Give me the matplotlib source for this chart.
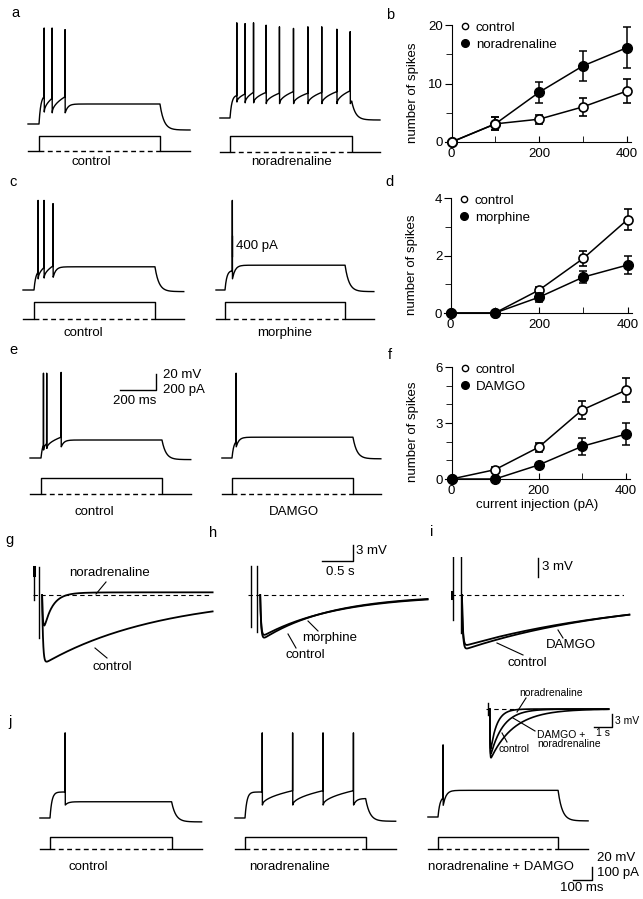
import numpy as np
import matplotlib
matplotlib.use('agg')
import matplotlib.pyplot as plt
from matplotlib.lines import Line2D

plt.rcParams['font.family'] = ['Liberation Sans', 'DejaVu Sans']
plt.rcParams['font.size'] = 9.5

W, H = 643, 899

# ---- spike counts vs current injection (b, d, f) ----
current_pa = [0, 100, 200, 300, 400]

b_control = [0, 3.1, 3.9, 6.0, 8.7]
b_control_err = [0, 1.1, 0.8, 1.6, 2.1]
b_nor = [0, 3.1, 8.5, 13.0, 16.1]
b_nor_err = [0, 1.1, 1.8, 2.6, 3.5]

d_control = [0, 0, 0.8, 1.9, 3.25]
d_control_err = [0, 0, 0.1, 0.25, 0.38]
d_morphine = [0, 0, 0.55, 1.25, 1.67]
d_morphine_err = [0, 0, 0.15, 0.2, 0.3]

f_control = [0, 0.5, 1.7, 3.7, 4.75]
f_control_err = [0, 0.15, 0.25, 0.5, 0.65]
f_damgo = [0, 0, 0.75, 1.75, 2.4]
f_damgo_err = [0, 0, 0.12, 0.45, 0.6]

# ---- voltage responses to a current step (ms after onset, mV above rest) ----
a_ctrl_spikes = [28, 72, 144]
a_ctrl_peak = [120, 120, 118]
a_ctrl_pre = [34, 32, 34]
a_ctrl_trough = [15, 14, 14]
a_nor_spikes = [37, 83, 130, 200, 274, 352, 432, 509, 593, 667]
a_nor_peak = [119, 118, 119, 116, 114, 112, 114, 114, 111, 108]
a_nor_pre = [28, 30, 32, 32, 31, 33, 31, 32, 33, 34]
a_nor_trough = [20, 19, 19, 18, 18, 18, 18, 18, 18, 18]

c_ctrl_spikes = [22, 55, 105]
c_ctrl_peak = [112, 112, 108]
c_ctrl_pre = [22, 28, 30]
c_ctrl_trough = [14, 15, 16]
c_mor_spikes = [40]
c_mor_peak = [112]
c_mor_pre = [24]
c_mor_trough = [14]

e_ctrl_spikes = [13, 31, 111]
e_ctrl_peak = [106, 106, 107]
e_ctrl_pre = [16, 18, 26]
e_ctrl_trough = [10, 12, 14]
e_dam_spikes = [22]
e_dam_peak = [106]
e_dam_pre = [20]
e_dam_trough = [14]

j_ctrl_spikes = [79]
j_ctrl_peak = [131]
j_ctrl_pre = [40]
j_ctrl_trough = [20]
j_nor_spikes = [90, 250, 410, 570]
j_nor_peak = [131, 131, 131, 131]
j_nor_pre = [40, 42, 42, 42]
j_nor_trough = [20, 20, 20, 20]
j_nd_spikes = [26]
j_nd_peak = [111]
j_nd_pre = [29]
j_nd_trough = [18]

# plateau and after-step level (mV) for each trace
plateau = {'a_ctrl': 25, 'a_nor': 26, 'c_ctrl': 29, 'c_mor': 31, 'e_ctrl': 22.5,
           'e_dam': 26, 'j_ctrl': 25, 'j_nor': 30, 'j_nd': 41}
after_step = {'a_ctrl': -7.5, 'a_nor': -2.5, 'c_ctrl': -2, 'c_mor': -2, 'e_ctrl': -2,
              'e_dam': -1, 'j_ctrl': -6, 'j_nor': -5, 'j_nd': -6}

# ---- slow afterhyperpolarisations (s, mV from baseline) ----
g_ahp_depth = [13.1, 8.4]          # control, noradrenaline
g_ahp_tau = [1.9, 0.13]
g_ahp_offset = [0.0, 0.5]
h_ahp_depth = [8.6, 8.0]           # control, morphine
h_ahp_tau = [1.1, 1.2]
i_ahp_depth = [8.8, 8.2]           # control, DAMGO
i_ahp_tau = [2.6, 2.8]
inset_depth = [12.0, 11.0, 11.5]   # control, noradrenaline, DAMGO + noradrenaline
inset_tau = [1.3, 0.35, 0.7]

fig = plt.figure(figsize=(W / 100, H / 100), dpi=100)


def px_axes(left, top, right, bottom):
    return fig.add_axes([left / W, 1 - bottom / H, (right - left) / W, (bottom - top) / H])


def trace_axes(x0, y0, sx, sy, xlim, ylim):
    # x0, y0: pixel of data (0, 0); sx, sy: pixels per data unit
    ax = px_axes(x0 + xlim[0] * sx, y0 - ylim[1] * sy, x0 + xlim[1] * sx, y0 - ylim[0] * sy)
    ax.set_xlim(xlim)
    ax.set_ylim(ylim)
    ax.axis('off')
    return ax


def ftext(x, y, s, **kw):
    kw.setdefault('ha', 'center')
    kw.setdefault('va', 'center')
    fig.text(x / W, 1 - y / H, s, **kw)


def pointer(x1, y1, x2, y2):
    fig.add_artist(Line2D([x1 / W, x2 / W], [1 - y1 / H, 1 - y2 / H], color='black', lw=0.8))


def spiking(spikes, peak, pre, trough, plat, after, step_ms, pre_ms, post_ms):
    t = [-pre_ms, 0]
    v = [0, 0]
    tt = np.linspace(0, spikes[0], 30)
    t += list(tt)
    v += list(pre[0] * (1 - np.exp(-tt / 10)) / (1 - np.exp(-spikes[0] / 10)))
    for i, s in enumerate(spikes):
        t += [s + 0.7, s + 1.5]
        v += [peak[i], trough[i]]
        if i + 1 < len(spikes):
            tt = np.linspace(s + 1.5, spikes[i + 1], 40)
            frac = (tt - tt[0]) / (tt[-1] - tt[0])
            t += list(tt)
            v += list(trough[i] + (pre[i + 1] - trough[i]) * frac ** 0.5)
    tt = np.linspace(spikes[-1] + 1.5, step_ms, 80)
    vv = plat + (trough[-1] - plat) * np.exp(-(tt - tt[0]) / 15)
    t += list(tt)
    v += list(vv)
    tt = np.linspace(step_ms, step_ms + post_ms, 80)
    t += list(tt)
    v += list(after + (vv[-1] - after) * np.exp(-(tt - step_ms) / 22))
    return np.array(t), np.array(v)


def cell(x0, y0, cur_y0, sx, sy, key, spikes, peak, pre, trough, step_ms,
         pre_ms=60, post_ms=165, cur_px=15):
    ax = trace_axes(x0, y0, sx, sy, (-pre_ms - 5, step_ms + post_ms + 5), (-15, 135))
    t, v = spiking(spikes, peak, pre, trough, plateau[key], after_step[key],
                   step_ms, pre_ms, post_ms)
    ax.plot(t, v, color='black', lw=1.0, clip_on=False)
    # current command below the voltage trace
    cax = trace_axes(x0, cur_y0, sx, 1.0, (-pre_ms - 5, step_ms + post_ms + 5), (-5, 25))
    cax.plot([-pre_ms, 0, 0, step_ms, step_ms, step_ms + post_ms],
             [0, 0, cur_px, cur_px, 0, 0], color='black', lw=1.0, clip_on=False)
    cax.plot([0, step_ms], [0, 0], color='black', lw=1.0, ls=(0, (3.5, 2.5)), clip_on=False)
    return ax


SX, SY = 0.18, 0.8

# a
cell(39, 124, 151, SX, SY, 'a_ctrl', a_ctrl_spikes, a_ctrl_peak, a_ctrl_pre, a_ctrl_trough, 672,
     pre_ms=61, post_ms=167, cur_px=15)
cell(230, 118, 152, SX, SY, 'a_nor', a_nor_spikes, a_nor_peak, a_nor_pre, a_nor_trough, 676,
     pre_ms=56, post_ms=157, cur_px=16)
ftext(91, 162, 'control')
ftext(292, 162, 'noradrenaline')

# c
cell(34, 290, 319, SX, SY, 'c_ctrl', c_ctrl_spikes, c_ctrl_peak, c_ctrl_pre, c_ctrl_trough, 672,
     pre_ms=61, post_ms=160, cur_px=17)
cell(225, 290, 319, SX, SY, 'c_mor', c_mor_spikes, c_mor_peak, c_mor_pre, c_mor_trough, 667,
     pre_ms=50, post_ms=160, cur_px=17)
ftext(83, 333, 'control')
ftext(285, 333, 'morphine')
ax_scale = trace_axes(232, 256, 1, 0.05, (0, 1), (0, 400))
ax_scale.plot([0, 0], [0, 400], color='black', lw=1.0, clip_on=False)
ftext(236, 246, '400 pA', ha='left')

# e
ax_e = cell(41, 458, 494, SX, SY, 'e_ctrl', e_ctrl_spikes, e_ctrl_peak, e_ctrl_pre, e_ctrl_trough, 672,
            pre_ms=61, post_ms=160, cur_px=16)
cell(232, 458, 494, SX, SY, 'e_dam', e_dam_spikes, e_dam_peak, e_dam_pre, e_dam_trough, 672,
     pre_ms=56, post_ms=155, cur_px=16)
ax_e.plot([439, 639, 639], [85, 85, 105], color='black', lw=1.0, clip_on=False)
ftext(163, 375, '20 mV', ha='left')
ftext(163, 390, '200 pA', ha='left')
ftext(135, 401, '200 ms')
ftext(94, 512, 'control')
ftext(294, 512, 'DAMGO')

# j
JX, JY = 0.19, 0.65
cell(50, 818, 849, JX, JY, 'j_ctrl', j_ctrl_spikes, j_ctrl_peak, j_ctrl_pre, j_ctrl_trough, 640,
     pre_ms=53, post_ms=158, cur_px=12)
cell(245, 818, 849, JX, JY, 'j_nor', j_nor_spikes, j_nor_peak, j_nor_pre, j_nor_trough, 635,
     pre_ms=53, post_ms=158, cur_px=12)
ax_j = cell(438, 817, 849, JX, JY, 'j_nd', j_nd_spikes, j_nd_peak, j_nd_pre, j_nd_trough, 632,
            pre_ms=53, post_ms=158, cur_px=12)
ax_j.plot([713, 813, 813], [-97, -97, -77], color='black', lw=1.0, clip_on=False)
ftext(597, 858, '20 mV', ha='left')
ftext(597, 873, '100 pA', ha='left')
ftext(582, 888, '100 ms')
ftext(88, 867, 'control')
ftext(290, 867, 'noradrenaline')
ftext(501, 867, 'noradrenaline + DAMGO')


# ---- afterhyperpolarisations ----
def ahp(depth, tau, offset=0.0, t_end=2.8):
    t = np.linspace(0.0, t_end, 400)
    onset = 1 - np.exp(-t / 0.015)
    v = -depth * np.exp(-t / tau) * onset + offset * (1 - np.exp(-t / 0.3))
    v[0] = 0
    return t, v


def ahp_axes(x0, y0, sy, t_end):
    ax = trace_axes(x0, y0, 62, sy, (-0.1, t_end), (-14, 6))
    ax.axhline(0, xmin=0.0, xmax=1.0, color='black', lw=0.8, ls=(0, (4, 3)))
    return ax


ax_g = ahp_axes(39, 595, 5.33, 2.75)
for dep, tau, off in zip(g_ahp_depth, g_ahp_tau, g_ahp_offset):
    t, v = ahp(dep, tau, off, 2.75)
    ax_g.plot(t + 0.05, v, color='black', lw=1.3, clip_on=False)
ax_g.plot([-0.08, -0.08], [5.3, -1], color='black', lw=1.0)
ax_g.plot([-0.08, -0.08], [5.3, 3.8], color='black', lw=2.2)
ax_g.plot([0, 0], [5.3, -8], color='black', lw=1.0)
ftext(110, 573, 'noradrenaline')
pointer(106, 582, 96, 594)
ftext(112, 667, 'control')
pointer(107, 658, 95, 648)

ax_h = ahp_axes(254, 595, 5.33, 2.7)
for dep, tau in zip(h_ahp_depth, h_ahp_tau):
    t, v = ahp(dep, tau, 0, 2.7)
    ax_h.plot(t + 0.1, v, color='black', lw=1.3, clip_on=False)
ax_h.plot([-0.05, -0.05], [5.5, -6], color='black', lw=1.0)
ax_h.plot([0.05, 0.05], [5.5, -7], color='black', lw=1.0)
ax_h.plot([1.1, 1.6, 1.6], [6.3, 6.3, 9.3], color='black', lw=1.0, clip_on=False)
ftext(356, 551, '3 mV', ha='left')
ftext(340, 572, '0.5 s')
ftext(330, 638, 'morphine')
pointer(318, 631, 308, 621)
ftext(305, 655, 'control')
pointer(296, 648, 288, 634)

ax_i = ahp_axes(457, 595, 6.3, 2.7)
for dep, tau in zip(i_ahp_depth, i_ahp_tau):
    t, v = ahp(dep, tau, 0, 2.7)
    ax_i.plot(t + 0.08, v, color='black', lw=1.3, clip_on=False)
ax_i.plot([-0.06, -0.06], [6, -4], color='black', lw=1.0)
ax_i.plot([-0.1, -0.1], [0.4, -0.4], color='black', lw=2.2)
ax_i.plot([0.06, 0.06], [6, -6], color='black', lw=1.0)
ax_i.plot([1.3, 1.3], [2.9, 5.9], color='black', lw=1.0, clip_on=False)
ftext(542, 567, '3 mV', ha='left')
ftext(571, 645, 'DAMGO')
pointer(563, 638, 558, 630)
ftext(527, 663, 'control')
pointer(523, 655, 497, 643)

# inset in j
ax_in = trace_axes(488, 709, 18, 4.33, (-0.1, 6.8), (-13, 3))
ax_in.axhline(0, color='black', lw=0.8, ls=(0, (4, 3)))
for dep, tau in zip(inset_depth, inset_tau):
    t, v = ahp(dep, tau, 0, 6.6)
    ax_in.plot(t + 0.1, v, color='black', lw=1.2, clip_on=False)
ax_in.plot([0, 0], [1.5, -1.5], color='black', lw=1.0)
ax_in.plot([5.9, 6.9, 6.9], [-4.2, -4.2, -1.2], color='black', lw=1.0, clip_on=False)
ftext(551, 693, 'noradrenaline', fontsize=7.5)
pointer(526, 698, 517, 712)
ftext(537, 735, 'DAMGO +', fontsize=7.5, ha='left')
ftext(537, 744, 'noradrenaline', fontsize=7.5, ha='left')
pointer(535, 731, 513, 718)
ftext(514, 749, 'control', fontsize=7.5)
pointer(507, 742, 502, 733)
ftext(615, 721, '3 mV', fontsize=7.5, ha='left')
ftext(603, 733, '1 s', fontsize=7.5)


# ---- spike count panels ----
def count_panel(box, ytop, major, minor, ctrl, ctrl_err, drug, drug_err, drug_name,
                ctrl_front=False, xlabel=None):
    ax = px_axes(*box)
    zc, zd = (4, 3) if ctrl_front else (3, 4)
    ax.errorbar(current_pa, drug, yerr=drug_err, color='black', marker='o', ms=7,
                mfc='black', mec='black', lw=1.1, capsize=3, capthick=1.1,
                elinewidth=1.1, zorder=zd, clip_on=False)
    ax.errorbar(current_pa, ctrl, yerr=ctrl_err, color='black', marker='o', ms=6.5,
                mfc='white', mec='black', mew=1.2, lw=1.1, capsize=3, capthick=1.1,
                elinewidth=1.1, zorder=zc, clip_on=False)
    ax.set_xlim(-15, 410)
    ax.set_ylim(0, ytop)
    ax.spines['left'].set_position(('data', 0))
    ax.spines['top'].set_visible(False)
    ax.spines['right'].set_visible(False)
    ax.set_xticks([0, 200, 400])
    ax.set_xticks([100, 300], minor=True)
    ax.set_yticks(major)
    ax.set_yticks(minor, minor=True)
    ax.tick_params(axis='x', which='both', direction='in', length=4, pad=4)
    ax.tick_params(axis='y', which='major', direction='out', length=5, pad=1)
    ax.tick_params(axis='y', which='minor', direction='out', length=4)
    ax.set_ylabel('number of spikes')
    ax.yaxis.set_label_coords(-0.14, 0.42)
    if xlabel:
        ax.set_xlabel(xlabel, labelpad=2)
    handles = [Line2D([], [], ls='none', marker='o', ms=4.5, mfc='white', mec='black'),
               Line2D([], [], ls='none', marker='o', ms=5.5, mfc='black', mec='black')]
    ax.legend(handles, ['control', drug_name], loc='upper left', bbox_to_anchor=(0.08, 1.03),
              frameon=False, borderpad=0, borderaxespad=0, handlelength=0.8,
              handletextpad=0.4, labelspacing=0.35)
    return ax


count_panel((445, 25, 631, 142), 20, [0, 10, 20], [5, 15], b_control, b_control_err,
            b_nor, b_nor_err, 'noradrenaline', ctrl_front=True)
count_panel((444, 198, 632, 313), 4, [0, 2, 4], [1, 3], d_control, d_control_err,
            d_morphine, d_morphine_err, 'morphine')
count_panel((445, 367, 630, 479), 6, [0, 3, 6], [1, 2, 4, 5], f_control, f_control_err,
            f_damgo, f_damgo_err, 'DAMGO', xlabel='current injection (pA)')

# panel letters
for letter, x, y in [('a', 15, 13), ('b', 390, 15), ('c', 13, 182), ('d', 390, 182),
                     ('e', 13, 350), ('f', 390, 355), ('g', 10, 540), ('h', 213, 533),
                     ('i', 432, 532), ('j', 10, 722)]:
    ftext(x, y, letter, fontsize=10.5)

fig.savefig('out.png', dpi=100, facecolor='white')
